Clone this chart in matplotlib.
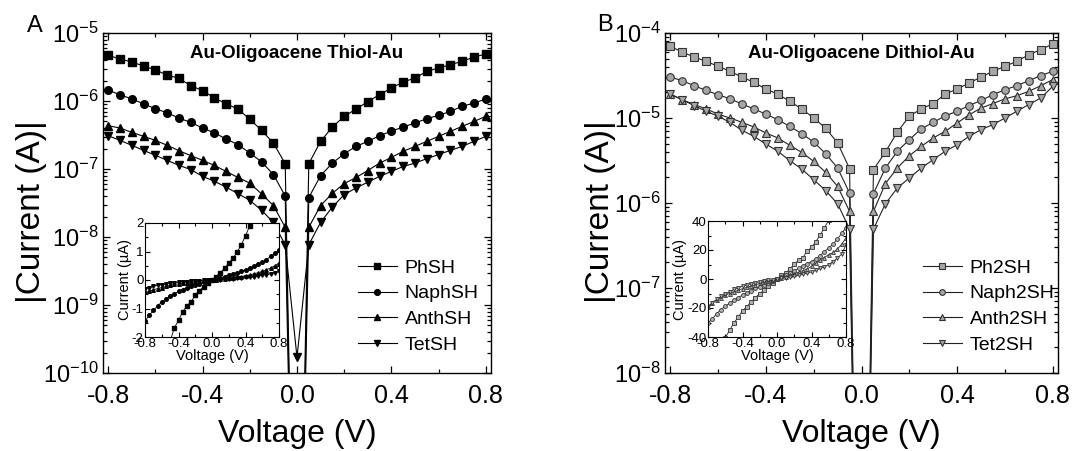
import numpy as np
import matplotlib
matplotlib.use("Agg")
import matplotlib.pyplot as plt
from matplotlib.ticker import MultipleLocator, FormatStrFormatter, LogLocator, NullFormatter

plt.rcParams['font.family'] = ['Liberation Sans', 'DejaVu Sans']
plt.rcParams['mathtext.fontset'] = 'custom'
plt.rcParams['mathtext.rm'] = 'Liberation Sans'
plt.rcParams['mathtext.it'] = 'Liberation Sans:italic'
plt.rcParams['axes.unicode_minus'] = False

# bias voltage grid (V), 0.05 V steps
voltage = np.round(np.linspace(-0.8, 0.8, 33), 2)

# |I| in A, panel A (monothiols)
phsh = [4.70e-6, 4.15e-6, 3.75e-6, 3.27e-6, 2.86e-6, 2.41e-6, 2.15e-6, 1.68e-6, 1.42e-6, 1.11e-6, 9.1e-7,
        7.6e-7, 5.4e-7, 3.7e-7, 2.4e-7, 1.2e-7, 1e-16, 1.2e-7, 2.55e-7, 4.15e-7, 5.96e-7, 7.6e-7, 9.8e-7,
        1.24e-6, 1.55e-6, 1.90e-6, 2.18e-6, 2.73e-6, 3.05e-6, 3.42e-6, 3.83e-6, 4.44e-6, 4.9e-6]
naphsh = [1.44e-6, 1.24e-6, 1.07e-6, 9.1e-7, 7.7e-7, 6.7e-7, 5.6e-7, 4.85e-7, 4.0e-7, 3.4e-7, 2.76e-7,
          2.28e-7, 1.72e-7, 1.27e-7, 8.3e-8, 4.0e-8, 1e-16, 3.8e-8, 8.0e-8, 1.22e-7, 1.68e-7, 2.15e-7,
          2.55e-7, 3.1e-7, 3.6e-7, 4.15e-7, 4.75e-7, 5.5e-7, 6.15e-7, 7.05e-7, 8.35e-7, 9.35e-7, 1.07e-6]
anthsh = [4.34e-7, 4.0e-7, 3.46e-7, 3.02e-7, 2.64e-7, 2.23e-7, 1.86e-7, 1.57e-7, 1.34e-7, 1.13e-7, 9.2e-8,
          7.5e-8, 6.2e-8, 4.3e-8, 2.9e-8, 1.39e-8, 1e-16, 1.39e-8, 2.9e-8, 4.4e-8, 6.1e-8, 7.5e-8, 9.5e-8,
          1.22e-7, 1.48e-7, 1.82e-7, 2.15e-7, 2.55e-7, 3.02e-7, 3.58e-7, 4.24e-7, 5.0e-7, 5.96e-7]
tetsh = [3.09e-7, 2.64e-7, 2.23e-7, 1.88e-7, 1.59e-7, 1.34e-7, 1.13e-7, 9.8e-8, 7.8e-8, 6.6e-8, 5.4e-8,
         4.34e-8, 3.46e-8, 2.47e-8, 1.64e-8, 7.7e-9, 1.7e-10, 7.7e-9, 1.64e-8, 2.76e-8, 4.2e-8, 5.26e-8,
         6.4e-8, 7.8e-8, 9.2e-8, 1.09e-7, 1.22e-7, 1.42e-7, 1.63e-7, 1.88e-7, 2.15e-7, 2.55e-7, 3.02e-7]

# |I| in A, panel B (dithiols)
ph2sh = [6.97e-5, 5.97e-5, 5.22e-5, 4.64e-5, 4.06e-5, 3.54e-5, 3.03e-5, 2.63e-5, 2.19e-5, 1.91e-5, 1.57e-5,
         1.28e-5, 1.0e-5, 7.6e-6, 5.08e-6, 2.54e-6, 1e-14, 2.47e-6, 3.98e-6, 6.84e-6, 1.05e-5, 1.28e-5,
         1.48e-5, 1.91e-5, 2.19e-5, 2.58e-5, 3.03e-5, 3.54e-5, 4.06e-5, 4.64e-5, 5.56e-5, 6.37e-5, 7.43e-5]
naph2sh = [3.03e-5, 2.75e-5, 2.4e-5, 2.11e-5, 1.88e-5, 1.68e-5, 1.46e-5, 1.28e-5, 1.11e-5, 9.55e-6, 7.97e-6,
           6.54e-6, 5.22e-6, 3.8e-6, 2.58e-6, 1.31e-6, 1e-14, 1.29e-6, 2.58e-6, 4.06e-6, 5.56e-6, 7.43e-6,
           8.89e-6, 1.06e-5, 1.2e-5, 1.4e-5, 1.61e-5, 1.88e-5, 2.15e-5, 2.4e-5, 2.75e-5, 3.15e-5, 3.54e-5]
anth2sh = [1.91e-5, 1.64e-5, 1.44e-5, 1.28e-5, 1.11e-5, 1.0e-5, 8.89e-6, 7.83e-6, 6.67e-6, 5.82e-6, 4.77e-6,
           3.94e-6, 3.09e-6, 2.3e-6, 1.57e-6, 7.98e-7, 1e-14, 7.98e-7, 1.69e-6, 2.58e-6, 3.6e-6, 4.64e-6,
           5.82e-6, 6.97e-6, 8.73e-6, 1.09e-5, 1.31e-5, 1.48e-5, 1.68e-5, 1.83e-5, 2.06e-5, 2.4e-5, 2.83e-5]
tet2sh = [1.91e-5, 1.64e-5, 1.40e-5, 1.2e-5, 1.05e-5, 8.89e-6, 7.16e-6, 6.08e-6, 4.94e-6, 4.06e-6, 3.15e-6,
          2.51e-6, 1.88e-6, 1.4e-6, 9.8e-7, 4.94e-7, 1e-14, 4.94e-7, 9.8e-7, 1.5e-6, 1.97e-6, 2.58e-6,
          3.24e-6, 4.06e-6, 4.85e-6, 6.08e-6, 7.3e-6, 8.36e-6, 1.0e-5, 1.2e-5, 1.44e-5, 1.72e-5, 2.36e-5]

labels_a = ['PhSH', 'NaphSH', 'AnthSH', 'TetSH']
labels_b = ['Ph2SH', 'Naph2SH', 'Anth2SH', 'Tet2SH']
markers = ['s', 'o', '^', 'v']

W, H = 1075, 451
fig = plt.figure(figsize=(W / 100, H / 100), dpi=100)


def box(x0, y0, x1, y1):
    return [x0 / W, 1 - y1 / H, (x1 - x0) / W, (y1 - y0) / H]


def style_main(ax, ylo, yhi, ylab_x):
    ax.set_yscale('log')
    ax.set_xlim(-0.822, 0.822)
    ax.set_ylim(ylo, yhi)
    ax.xaxis.set_major_locator(MultipleLocator(0.4))
    ax.xaxis.set_minor_locator(MultipleLocator(0.2))
    ax.xaxis.set_major_formatter(FormatStrFormatter('%.1f'))
    ax.yaxis.set_major_locator(LogLocator(base=10, numticks=20))
    ax.yaxis.set_minor_locator(LogLocator(base=10, subs=np.arange(2, 10), numticks=20))
    ax.yaxis.set_minor_formatter(NullFormatter())
    ax.tick_params(which='both', direction='in', top=True, right=True, width=0.9)
    ax.tick_params(which='major', length=5)
    ax.tick_params(which='minor', length=3)
    ax.tick_params(axis='x', which='major', labelsize=18, pad=8)
    ax.tick_params(axis='y', which='major', labelsize=17, pad=3)
    for s in ax.spines.values():
        s.set_linewidth(1.0)
    ax.set_xlabel('Voltage (V)', fontsize=23)
    ax.set_ylabel('|Current (A)|', fontsize=24)
    ax.xaxis.set_label_coords(0.5, -0.135)
    ax.yaxis.set_label_coords(ylab_x, 0.474)


def style_inset(ax, ylim, ymaj):
    ax.set_xlim(-0.8, 0.8)
    ax.set_ylim(*ylim)
    ax.xaxis.set_major_locator(MultipleLocator(0.4))
    ax.xaxis.set_minor_locator(MultipleLocator(0.2))
    ax.xaxis.set_major_formatter(FormatStrFormatter('%.1f'))
    ax.yaxis.set_major_locator(MultipleLocator(ymaj))
    ax.yaxis.set_minor_locator(MultipleLocator(ymaj / 2))
    ax.tick_params(which='both', direction='in', top=True, right=True, width=0.8)
    ax.tick_params(which='major', length=3.5, labelsize=9.5, pad=1)
    ax.tick_params(which='minor', length=2)
    ax.set_xlabel('Voltage (V)', fontsize=10.5, labelpad=-1)
    ax.set_ylabel('Current (\u00b5A)', fontsize=10.5, labelpad=0)


sign = np.sign(voltage)
leg_kw = dict(loc='upper left', frameon=False, fontsize=14, borderpad=0, borderaxespad=0,
              handlelength=2.0, handletextpad=0.4, labelspacing=0.42, markerscale=0.75)

# ---- panel A
axA = fig.add_axes(box(103, 33, 491, 373))
for vals, lab, m in zip([phsh, naphsh, anthsh, tetsh], labels_a, markers):
    axA.plot(voltage, vals, color='black', lw=0.8, marker=m, ms=5.5, mfc='black', mec='black', label=lab)
style_main(axA, 1e-10, 1e-5, -0.144)
axA.text(0.5, 0.94, 'Au-Oligoacene Thiol-Au', transform=axA.transAxes, ha='center', va='center',
         fontsize=13.5, fontweight='bold')
axA.legend(bbox_to_anchor=(0.657, 0.335), **leg_kw)

insA = fig.add_axes(box(145, 223, 279, 337))
for vals, m in zip([phsh, naphsh, anthsh, tetsh], markers):
    insA.plot(voltage, sign * np.array(vals) * 1e6, color='black', lw=0.6, marker=m, ms=2.6,
              mfc='black', mec='black')
style_inset(insA, (-2, 2), 1)

# ---- panel B
axB = fig.add_axes(box(665, 33, 1058, 373))
for vals, lab, m in zip([ph2sh, naph2sh, anth2sh, tet2sh], labels_b, markers):
    axB.plot(voltage, vals, color='#222222', lw=0.8, marker=m, ms=5.5, mfc='#a6a6a6', mec='#333333',
             mew=0.8, label=lab)
style_main(axB, 1e-8, 1e-4, -0.125)
axB.text(0.5, 0.94, 'Au-Oligoacene Dithiol-Au', transform=axB.transAxes, ha='center', va='center',
         fontsize=13.5, fontweight='bold')
axB.legend(bbox_to_anchor=(0.656, 0.335), **leg_kw)

insB = fig.add_axes(box(708, 221, 846, 337))
for vals, m in zip([ph2sh, naph2sh, anth2sh, tet2sh], markers):
    insB.plot(voltage, sign * np.array(vals) * 1e6, color='#222222', lw=0.6, marker=m, ms=2.8,
              mfc='#b0b0b0', mec='#333333', mew=0.6)
style_inset(insB, (-40, 40), 20)

fig.text(35 / W, 1 - 26 / H, 'A', fontsize=17, ha='center', va='center')
fig.text(605 / W, 1 - 25 / H, 'B', fontsize=17, ha='center', va='center')

fig.savefig('out.png', dpi=100)
